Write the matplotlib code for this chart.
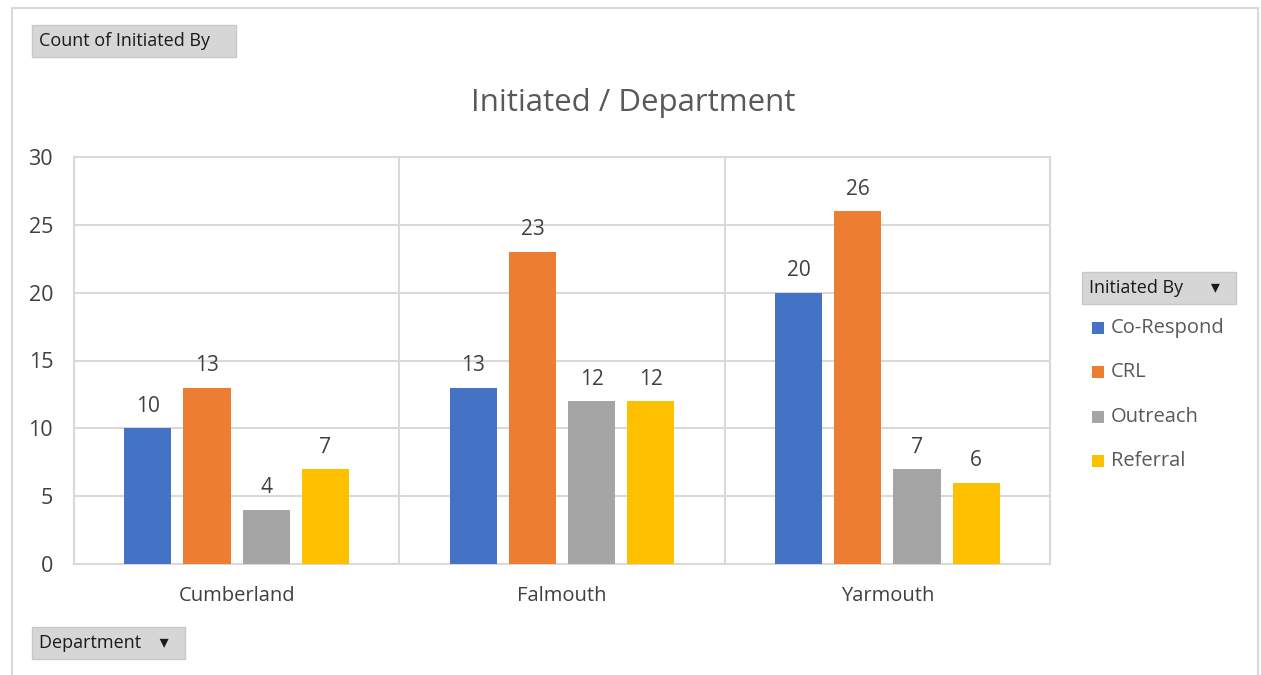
import matplotlib
matplotlib.use('Agg')
import matplotlib.pyplot as plt
import matplotlib.patches as mpatches
import numpy as np

# dados
departamentos = ['Cumberland', 'Falmouth', 'Yarmouth']
series = ['Co-Respond', 'CRL', 'Outreach', 'Referral']
co_respond = [10, 13, 20]
crl = [13, 23, 26]
outreach = [4, 12, 7]
referral = [7, 12, 6]
cores = ['#4472C4', '#ED7D31', '#A5A5A5', '#FFC000']

plt.rcParams['font.family'] = ['Open Sans', 'DejaVu Sans']

W, H = 1261, 675
fig = plt.figure(figsize=(W / 100, H / 100), dpi=100)

def fx(px):
    return px / W

def fy(py):
    return 1 - py / H

# moldura externa (a borda de baixo fica fora da imagem)
fig.patches.append(mpatches.Rectangle((fx(12), fy(690)), fx(1246), fy(8) - fy(690),
                                      transform=fig.transFigure, fill=False,
                                      edgecolor='#d9d9d9', linewidth=1.5))

ax = fig.add_axes([fx(74), fy(564), fx(1050 - 74), fy(157) - fy(564)])

valores = [co_respond, crl, outreach, referral]
x = np.arange(len(departamentos))
passo = 0.182
largura = 0.145
for i, (vals, cor) in enumerate(zip(valores, cores)):
    pos = x + (i - 1.5) * passo
    bars = ax.bar(pos, vals, width=largura, color=cor, zorder=3)
    for b, v in zip(bars, vals):
        ax.text(b.get_x() + b.get_width() / 2, v + 0.85, str(v),
                ha='center', va='bottom', fontsize=15, color='#404040')

ax.set_xlim(-0.5, 2.5)
ax.set_ylim(0, 30)
ax.set_yticks(range(0, 31, 5))
ax.set_xticks(x)
ax.set_xticklabels(departamentos)
ax.tick_params(axis='both', length=0, labelcolor='#404040')
ax.tick_params(axis='x', pad=16, labelsize=14.5)
ax.tick_params(axis='y', pad=15, labelsize=15.5)

ax.grid(axis='y', color='#d9d9d9', linewidth=1.5, zorder=0)
for sep in [0.5, 1.5]:
    ax.axvline(sep, color='#d9d9d9', linewidth=1.5, zorder=0)
for s in ax.spines.values():
    s.set_color('#d9d9d9')
    s.set_linewidth(1.5)

# título
fig.text(fx(633), fy(103), 'Initiated / Department', ha='center', va='center',
         fontsize=22.5, color='#595959')

# botões do pivot
botao = dict(boxstyle='square,pad=0.4', facecolor='#d6d6d6', edgecolor='#c8c8c8')
fig.text(fx(39), fy(41), 'Count of Initiated By    ', ha='left', va='center',
         fontsize=13, color='#1a1a1a', bbox=botao)
fig.text(fx(39), fy(643), 'Department    \u25BE  ', ha='left', va='center',
         fontsize=13, color='#1a1a1a', bbox=botao)
fig.text(fx(1089), fy(288), 'Initiated By      \u25BE  ', ha='left', va='center',
         fontsize=13, color='#1a1a1a', bbox=botao)

# legenda
for i, (nome, cor) in enumerate(zip(series, cores)):
    yy = 328 + i * 44.3
    fig.patches.append(mpatches.Rectangle((fx(1092), fy(yy + 6)), fx(12), fy(yy - 6) - fy(yy + 6),
                                          transform=fig.transFigure, facecolor=cor,
                                          edgecolor='none'))
    fig.text(fx(1111), fy(yy), nome, ha='left', va='center', fontsize=14.5, color='#595959')

fig.savefig('out.png', dpi=100)
